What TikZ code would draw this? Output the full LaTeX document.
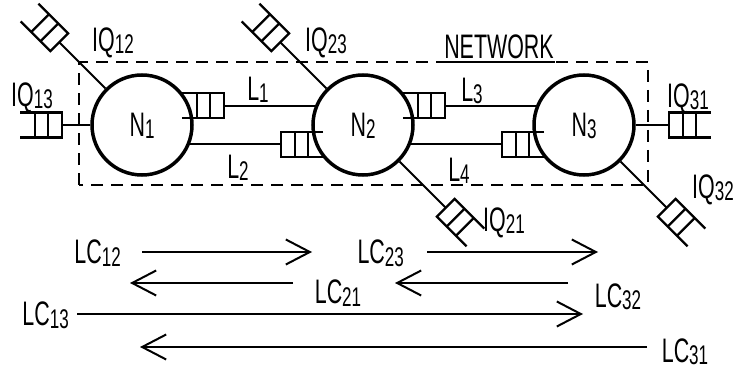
\documentclass[tikz,border=0pt]{standalone}
\usepackage{fontspec}
\setmainfont{Liberation Sans}[FakeStretch=0.63]
\usetikzlibrary{
  arrows.meta,
  positioning,
  backgrounds
}
\newcommand{\qsub}[1]{\raisebox{-2pt}{\fontsize{27}{27}\selectfont #1}}
\tikzset{
  % Tugunlar
  nodecirc/.style = {circle, draw, line width=3.5pt, minimum size=100pt, inner sep=0pt,
                     font=\fontsize{34}{34}\selectfont, text height=24pt, text depth=0pt},
  % Chiziqlar
  link/.style     = {line width=2pt},
  netbox/.style   = {line width=2.5pt, dash pattern=on 12pt off 8pt},
  flow/.style     = {line width=2pt, -{Straight Barb[length=24pt,width=25pt,line width=2pt]}},
  % Etiketlar
  lab/.style      = {font=\fontsize{34}{34}\selectfont, inner sep=1pt, text height=24pt, text depth=0pt},
  % Navbat
  queue/.pic      = {
    \fill[white] (0,-12.5) rectangle (42,12.5);
    \draw[line width=2.3pt] (42,12.5) -- (0,12.5) -- (0,-12.5) -- (42,-12.5);
    \draw[line width=2.3pt] (14,-12.5) -- (14,12.5) (27,-12.5) -- (27,12.5);
  },
}
\begin{document}
\begin{tikzpicture}[x=1pt,y=1pt]
  \useasboundingbox (0,0) rectangle (740,370);
  % Tugunlar
  \node[nodecirc] (N1) at (142,245) {N\qsub{1}};
  \node[nodecirc] (N2) at (363,245) {N\qsub{2}};
  \node[nodecirc] (N3) at (584,245) {N\qsub{3}};
  % Navbat nuqtalari
  \coordinate (q13) at ([xshift=-28pt]N1.west);
  \coordinate (q12) at ([shift={(135:117)}]N1.center);
  \coordinate (q23) at ([shift={(135:117)}]N2.center);
  \coordinate (q21) at ([shift={(-45:117)}]N2.center);
  \coordinate (q31) at ([xshift=33pt]N3.east);
  \coordinate (q32) at ([shift={(-45:117)}]N3.center);
  \begin{scope}[on background layer]
    % Aloqa chiziqlari
    \draw[link] (N1.22) -- (N2.158);
    \draw[link] (N1.-22) -- (N2.-158);
    \draw[link] (N2.22) -- (N3.158);
    \draw[link] (N2.-22) -- (N3.-158);
    \draw[link] (N1) -- (q13);
    \draw[link] (N1) -- (q12);
    \draw[link] (N2) -- (q23);
    \draw[link] (N2) -- (q21);
    \draw[link] (N3) -- (q31);
    \draw[link] (N3) -- (q32);
    % Navbatlar
    \pic[rotate=180] at ([xshift=34pt]N1.22) {queue};
    \pic at ([xshift=-34pt]N2.-158) {queue};
    \pic[rotate=180] at ([xshift=34pt]N2.22) {queue};
    \pic at ([xshift=-34pt]N3.-158) {queue};
    \pic[rotate=180] at (q13) {queue};
    \pic[rotate=135] at (q12) {queue};
    \pic[rotate=135] at (q23) {queue};
    \pic[rotate=-45] at (q21) {queue};
    \pic at (q31) {queue};
    \pic[rotate=-45] at (q32) {queue};
  \end{scope}
  % Tarmoq chegarasi
  \draw[netbox] (79,185) rectangle (648,308);
  \node[lab] (net) at (499,323) {NETWORK};
  \draw[line width=2.5pt] ([yshift=-2pt]net.south west) -- ([yshift=-2pt]net.south east);
  % Etiketlar
  \node[lab] (iq13) at (32,275) {IQ\qsub{13}};
  \node[lab] (iq12) at (113,330) {IQ\qsub{12}};
  \node[lab] (iq23) at (326,330) {IQ\qsub{23}};
  \node[lab] (iq21) at (504,150) {IQ\qsub{21}};
  \node[lab] (iq31) at (688,274) {IQ\qsub{31}};
  \node[lab] (iq32) at (713,183) {IQ\qsub{32}};
  \node[lab] (l1) at (258,281) {L\qsub{1}};
  \node[lab] (l2) at (238,203) {L\qsub{2}};
  \node[lab] (l3) at (472,280) {L\qsub{3}};
  \node[lab] (l4) at (459,200) {L\qsub{4}};
  % Oqimlar
  \coordinate (a12s) at (142,118);
  \coordinate (a12e) at (312,118);
  \coordinate (a23s) at (427,118);
  \coordinate (a23e) at (598,118);
  \coordinate (a21s) at (293,87);
  \coordinate (a21e) at (130,87);
  \coordinate (a32s) at (568,87);
  \coordinate (a32e) at (395,87);
  \coordinate (a13s) at (77,56);
  \coordinate (a13e) at (583,56);
  \coordinate (a31s) at (647,23);
  \coordinate (a31e) at (140,23);
  \draw[flow] (a12s) -- (a12e);
  \draw[flow] (a23s) -- (a23e);
  \draw[flow] (a21s) -- (a21e);
  \draw[flow] (a32s) -- (a32e);
  \draw[flow] (a13s) -- (a13e);
  \draw[flow] (a31s) -- (a31e);
  \node[lab, left=20pt of a12s] (lc12) {LC\qsub{12}};
  \node[lab, left=22pt of a23s] (lc23) {LC\qsub{23}};
  \node[lab] (lc21) at (338,78) {LC\qsub{21}};
  \node[lab] (lc32) at (618,75) {LC\qsub{32}};
  \node[lab, left=7pt of a13s] (lc13) {LC\qsub{13}};
  \node[lab] (lc31) at (685,20) {LC\qsub{31}};
\end{tikzpicture}
\end{document}
